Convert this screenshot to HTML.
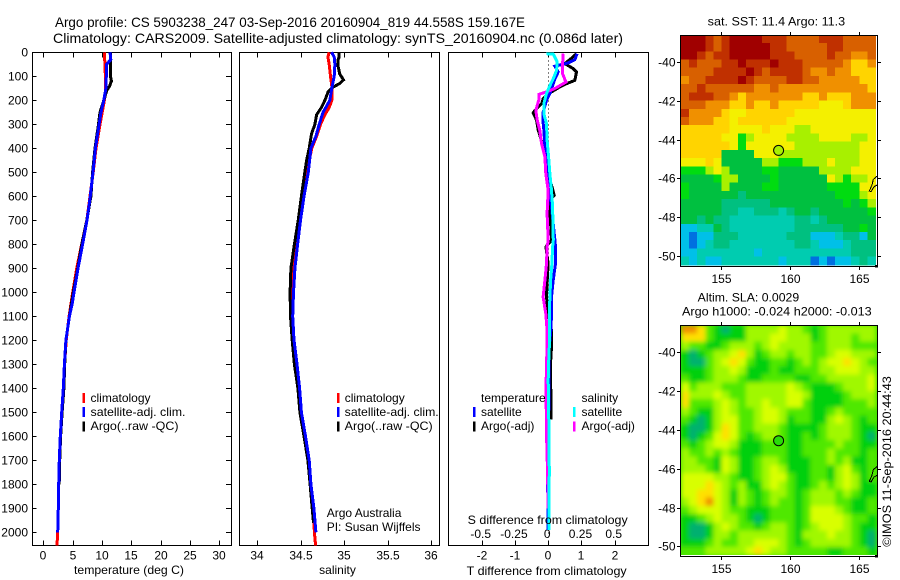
<!DOCTYPE html>
<html lang="en">
<head>
<meta charset="utf-8">
<title>Argo profile CS 5903238_247</title>
<style>
html,body{margin:0;padding:0;background:#fff;width:900px;height:580px;overflow:hidden}
svg{display:block}
text{font-family:"Liberation Sans",Arial,sans-serif;font-size:12px;fill:#000}
.t13{font-size:14px}
</style>
</head>
<body>
<svg id="chart" xmlns="http://www.w3.org/2000/svg" width="900" height="580" viewBox="0 0 900 580">
  <defs>
    <clipPath id="clip-sla"><rect x="681" y="325.7" width="196.5" height="229.3"/></clipPath>
    <filter id="smooth" x="-5%" y="-5%" width="110%" height="110%"><feGaussianBlur stdDeviation="2.4"/></filter>
  </defs>
  <text class="t13" x="55" y="27" textLength="470" lengthAdjust="spacingAndGlyphs">Argo profile: CS 5903238_247 03-Sep-2016 20160904_819 44.558S 159.167E</text>
  <text class="t13" x="53" y="43" textLength="570" lengthAdjust="spacingAndGlyphs">Climatology: CARS2009. Satellite-adjusted climatology: synTS_20160904.nc (0.086d later)</text>

  <g id="panels"></g>
  <g id="maps"></g>

  <g>
    <rect x="82.5" y="393" width="2.5" height="10" fill="#ff0000"/>
    <text x="90.5" y="402">climatology</text>
    <rect x="82.5" y="407" width="2.5" height="10" fill="#0000ff"/>
    <text x="90.5" y="416" textLength="95" lengthAdjust="spacingAndGlyphs">satellite-adj. clim.</text>
    <rect x="82.5" y="421.5" width="2.5" height="10" fill="#000"/>
    <text x="90.5" y="430" textLength="88" lengthAdjust="spacingAndGlyphs">Argo(..raw -QC)</text>
  </g>
  <g>
    <rect x="337" y="393" width="2.5" height="10" fill="#ff0000"/>
    <text x="344.7" y="402">climatology</text>
    <rect x="337" y="407" width="2.5" height="10" fill="#0000ff"/>
    <text x="344.7" y="416" textLength="94" lengthAdjust="spacingAndGlyphs">satellite-adj. clim.</text>
    <rect x="337" y="421.5" width="2.5" height="10" fill="#000"/>
    <text x="344.7" y="430" textLength="88" lengthAdjust="spacingAndGlyphs">Argo(..raw -QC)</text>
    <text x="326.7" y="517">Argo Australia</text>
    <text x="326.7" y="531">PI: Susan Wijffels</text>
  </g>
  <g>
    <text x="481" y="402">temperature</text>
    <rect x="473" y="407" width="2.5" height="10" fill="#0000ff"/>
    <text x="481" y="416">satellite</text>
    <rect x="473" y="421.5" width="2.5" height="10" fill="#000"/>
    <text x="481" y="430">Argo(-adj)</text>
    <text x="581.5" y="402">salinity</text>
    <rect x="573" y="407" width="2.5" height="10" fill="#00ffff"/>
    <text x="581.5" y="416">satellite</text>
    <rect x="573" y="421.5" width="2.5" height="10" fill="#ff00ff"/>
    <text x="581.5" y="430">Argo(-adj)</text>
  </g>

  <text x="74" y="574" textLength="110" lengthAdjust="spacingAndGlyphs">temperature (deg C)</text>
  <text x="337.5" y="574" text-anchor="middle">salinity</text>
  <text x="466.7" y="575" textLength="160" lengthAdjust="spacingAndGlyphs">T difference from climatology</text>
  <text x="467.7" y="524" textLength="160" lengthAdjust="spacingAndGlyphs">S difference from climatology</text>

  <text x="707.7" y="25.5" textLength="137.5" lengthAdjust="spacingAndGlyphs">sat. SST: 11.4 Argo: 11.3</text>
  <text x="697.7" y="301.7" textLength="101.5" lengthAdjust="spacingAndGlyphs">Altim. SLA: 0.0029</text>
  <text x="682" y="315.7" textLength="189.7" lengthAdjust="spacingAndGlyphs">Argo h1000: -0.024 h2000: -0.013</text>
  <text transform="translate(891,546.7) rotate(-90)" textLength="170.5" lengthAdjust="spacingAndGlyphs">©IMOS 11-Sep-2016 20:44:43</text>
</svg>
<script>
/* ---------- axis tick values ---------- */
const depthTicks = [0,100,200,300,400,500,600,700,800,900,1000,1100,1200,1300,1400,1500,1600,1700,1800,1900,2000];
const tempTicks = [0,5,10,15,20,25,30];
const salTicks = [34,34.5,35,35.5,36];
const salTickLabels = ['34','34.5','35','35.5','36'];
const tDiffTicks = [-2,-1,0,1,2];
const sDiffTicks = [-0.5,-0.25,0,0.25,0.5];
const sDiffLabels = ['-0.5','-0.25','0','0.25','0.5'];
const lonTicks = [155,160,165];
const latTicks = [-40,-42,-44,-46,-48,-50];

/* ---------- temperature profiles ---------- */
const climTempDepth = [0,100,170,200,300,400,500,600,700,800,900,1000,1100,1200,1300,1400,1500,1600,1700,1800,1900,2000,2055];
const climTemp = [10.4,10.57,10.57,10.4,9.66,8.98,8.5,7.96,7.4,6.54,5.69,5.0,4.4,3.9,3.62,3.4,3.13,2.9,2.73,2.62,2.56,2.45,2.33];
const satTempDepth = [0,30,50,100,150,200,250,300,400,500,600,700,800,900,1000,1050,1100,1200,1300,1400,1500,1600,1700,1800,1900,2000];
const satTemp = [11.36,11.5,10.8,10.73,10.66,10.3,9.83,9.5,8.87,8.47,8.0,7.44,6.7,5.9,5.23,4.9,4.45,3.85,3.6,3.4,3.13,2.9,2.73,2.62,2.56,2.45];
const argoTempDepth = [0,100,120,140,160,200,250,300,400,500,600,700,800,900,1000,1100,1200,1300,1400,1500,1600,1700,1800];
const argoTemp = [11.4,11.45,11.6,11.3,10.8,10.3,9.66,9.4,8.8,8.4,8.1,7.4,6.55,5.85,5.1,4.45,3.85,3.65,3.5,3.2,2.95,2.8,2.7];

/* ---------- salinity profiles ---------- */
const climSalDepth = [0,20,50,100,150,200,230,260,300,350,400,500,600,700,800,900,1000,1100,1200,1300,1400,1500,1600,1700,1800,1900,2000,2055];
const climSal = [34.83,34.815,34.83,34.845,34.863,34.86,34.83,34.78,34.73,34.685,34.63,34.57,34.516,34.485,34.436,34.41,34.4,34.39,34.41,34.44,34.475,34.5,34.54,34.585,34.615,34.645,34.66,34.673];
const satSalDepth = [0,20,50,100,150,200,250,300,350,400,500,600,700,800,900,1000,1100,1200,1300,1400,1500,1600,1700,1800,1900,2000];
const satSal = [34.857,34.887,34.895,34.887,34.86,34.837,34.76,34.715,34.677,34.62,34.59,34.54,34.5,34.467,34.436,34.42,34.41,34.425,34.46,34.49,34.51,34.558,34.6,34.62,34.654,34.677];
const argoSalDepth = [0,20,30,60,90,115,130,145,165,200,230,260,300,340,400,450,500,600,700,800,900,1000,1100,1200,1300,1400,1500,1600,1700,1800,1900,1960];
const argoSal = [34.944,34.944,34.933,34.933,34.95,34.994,34.95,34.875,34.817,34.78,34.74,34.685,34.665,34.627,34.6,34.57,34.55,34.51,34.474,34.43,34.39,34.38,34.385,34.405,34.43,34.47,34.493,34.54,34.585,34.61,34.635,34.65];

/* ---------- differences from climatology ---------- */
const satTDiffDepth = [6,31,44,58,82,110,131,172,200,249,297,325,394,436,506,575,644,783,811,881,950,1019,1089,1158,1228,1297,1464,1742,1990];
const satTDiff = [.87,.80,.60,.20,.30,.20,.15,.05,-.05,-.15,-.15,-.13,-.10,-.05,-.03,.03,.10,.20,.22,.22,.15,.10,.10,.08,.03,.02,.02,-.02,0];
const argoTDiffDepth = [6,19,47,68,82,117,131,144,169,193,214,242,253,283,325,346,394,450,506,568,596,617,658,783,811,881,950,1019,1089,1158,1228,1297,1464,1530];
const argoTDiff = [.85,.75,.50,.75,.85,.80,.55,.35,.05,-.15,-.20,-.40,-.45,-.35,-.30,-.25,-.15,-.07,0,.13,.18,.05,.05,.10,-.07,0,-.03,-.05,0,.10,.10,.07,.08,.08];
const satSDiffDepth = [6,8,40,75,110,144,172,214,256,297,367,436,506,575,644,783,811,881,950,1019,1089,1158,1228,1297,1367,1464,1589,1742,1990];
const satSDiff = [-.013,.038,.068,.063,.038,.008,-.013,-.033,-.033,-.013,-.008,.003,.013,.025,.033,.038,.033,.028,.018,.013,.008,.008,.008,.003,0,.003,.005,.008,.005];
const argoSDiffDepth = [6,47,89,124,151,165,175,193,242,283,325,381,436,506,575,672,783,811,881,950,1019,1089,1158,1228,1297,1367,1464,1589,1742,1900];
const argoSDiff = [.113,.108,.108,.133,.05,-.013,-.068,-.068,-.093,-.083,-.063,-.05,-.025,-.018,0,-.008,0,-.008,-.013,-.025,-.038,-.018,-.008,-.008,-.013,-.015,-.015,-.013,-.005,0];

/* ---------- float position and coastline ---------- */
const argoLon = 159.167;
const argoLat = -44.558;
const argoSstLevel = 7;
const argoSlaLevel = 5.5;
const coastLon = [166.35,166.06,165.97,165.77,165.9,166.11,166.35];
const coastLat = [-45.88,-46.05,-46.34,-46.65,-46.68,-46.43,-46.34];

/* ---------- map grids: colour-scale level per cell, north to south ---------- */
const sstGrid = [
[13,13,13,12,11,12,13,13,13,13,12,12,12,11,11,11,11,12,12,12,11,11,11,11],
[13,13,13,12,11,12,13,13,13,13,13,12,12,11,11,11,11,11,12,12,11,11,11,11],
[13,13,12,11,12,12,13,13,13,13,13,12,12,12,11,11,11,11,12,11,11,10,10,11],
[11,12,11,11,11,12,12,13,12,12,12,13,12,12,12,11,11,11,11,11,10,9,9,10],
[11,11,11,11,12,12,12,12,13,12,11,12,12,12,12,11,10,10,11,10,10,9,9,9],
[10,11,11,12,12,12,12,13,12,11,11,11,11,12,12,11,11,10,10,10,10,10,9,9],
[11,11,12,11,11,11,11,11,11,10,10,11,10,10,10,10,10,10,10,10,10,10,10,9],
[11,12,12,12,11,11,10,9,10,10,10,10,10,10,10,9,9,10,9,9,9,10,10,10],
[11,11,11,10,10,10,9,9,10,9,9,10,9,9,9,9,9,8,8,8,9,10,10,10],
[12,10,10,10,10,9,8,8,9,9,9,9,9,9,8,8,8,8,8,8,8,8,8,8],
[11,10,10,10,9,9,8,9,9,9,9,9,9,8,8,8,8,8,8,8,8,8,8,8],
[9,9,9,9,9,9,8,8,8,8,9,8,8,8,7,7,8,8,8,8,8,8,8,8],
[9,9,9,9,9,8,8,6,7,8,8,8,8,7,7,7,7,8,8,8,8,7,7,8],
[9,9,9,9,9,9,8,6,8,8,8,8,8,8,7,7,7,7,7,7,7,7,8,8],
[9,9,9,9,9,5,5,5,5,8,8,8,7,7,7,7,7,7,7,7,7,7,8,8],
[8,8,8,9,8,5,5,5,5,5,7,7,6,6,6,7,7,7,8,7,7,7,8,8],
[6,6,6,7,8,7,5,5,5,5,6,6,5,5,5,5,5,7,7,7,7,8,8,8],
[5,5,5,5,6,7,7,5,5,5,5,6,5,5,5,5,5,5,8,7,6,7,7,8],
[6,5,5,5,5,7,5,5,5,5,6,6,5,5,5,5,5,5,6,6,6,6,8,8],
[6,5,5,5,5,5,5,4,5,5,5,5,5,5,5,5,5,5,5,6,6,6,7,8],
[5,5,5,5,5,4,4,4,4,4,4,5,5,5,5,5,5,5,5,5,6,5,6,7],
[5,5,5,5,5,4,4,3,3,4,4,4,3,4,5,5,4,5,5,5,5,5,5,6],
[5,5,4,5,4,4,3,3,3,3,3,3,3,3,4,4,3,4,5,5,5,5,5,5],
[2,2,3,3,5,4,3,3,3,3,3,3,3,3,4,4,4,4,4,4,5,5,6,5],
[2,1,2,2,4,4,4,3,3,3,3,3,3,4,4,4,2,2,2,3,4,4,2,5],
[2,1,2,3,4,4,3,3,3,3,3,3,3,3,4,4,3,2,2,2,3,4,4,4],
[2,2,3,3,3,3,3,3,3,2,3,3,3,3,3,3,3,3,3,3,3,4,4,4],
[3,2,3,2,2,3,3,3,3,3,3,3,2,3,3,3,1,2,1,2,2,3,4,3]
];
const slaGrid = [
[10,10,9,6,5,4,5,5,7,7,7,7,8,7,7,6,5,6,7,7,7,7,7,7],
[9,9,9,6,5,5,5,5,7,7,7,8,8,7,7,7,5,6,7,7,7,6,7,7],
[7,6,6,5,5,6,7,7,7,6,7,8,7,7,7,7,6,6,7,7,7,6,6,6],
[5,4,5,6,7,7,8,9,7,5,6,7,7,6,7,7,6,6,7,8,8,7,7,7],
[5,4,4,6,7,8,9,8,6,5,5,6,6,5,6,7,6,7,8,8,9,8,7,6],
[5,5,5,6,7,7,8,7,5,5,5,6,5,5,6,6,6,7,7,8,8,8,7,7],
[6,5,5,6,7,7,7,6,5,5,6,6,6,6,5,5,6,6,7,7,7,7,7,8],
[8,6,7,7,7,6,6,6,7,7,7,7,7,8,7,6,5,5,5,6,7,7,7,8],
[9,7,7,7,8,7,6,6,7,7,7,7,7,8,8,7,5,5,5,5,6,7,7,7],
[9,6,6,6,7,8,7,6,7,7,8,7,7,8,8,6,5,5,5,5,6,6,6,7],
[7,6,5,5,7,8,7,6,6,7,8,8,7,6,6,6,5,5,6,7,6,6,6,6],
[6,5,4,5,7,8,8,6,6,7,8,8,7,5,6,6,5,5,7,8,7,6,5,6],
[5,4,4,5,7,9,8,6,6,7,7,7,6,5,5,5,5,6,7,7,7,6,5,5],
[5,4,5,6,8,9,8,6,5,6,7,7,6,5,5,6,5,6,7,7,7,6,5,4],
[6,5,6,7,8,8,7,5,5,5,6,6,6,5,5,6,6,6,6,7,6,6,5,5],
[7,6,6,7,6,7,6,5,5,5,6,6,6,5,5,6,6,6,7,6,6,6,5,6],
[7,7,6,6,5,8,7,5,5,6,7,7,6,5,5,5,6,6,7,6,7,5,5,6],
[7,7,7,6,5,8,7,5,5,6,7,8,7,5,5,5,6,6,5,7,8,6,5,6],
[8,8,8,8,7,7,6,5,5,6,7,8,8,6,5,5,6,6,5,7,8,7,5,6],
[8,8,8,9,8,7,6,7,5,5,7,8,7,6,5,5,6,7,6,7,8,7,5,5],
[8,8,9,9,8,7,5,7,6,5,6,7,7,6,5,6,7,7,7,6,7,6,5,5],
[7,8,9,10,8,7,5,7,6,5,6,7,6,6,5,6,7,7,7,6,6,5,5,6],
[6,7,8,8,8,7,6,6,5,5,5,6,6,6,5,6,8,8,8,7,6,5,5,6],
[5,5,6,7,8,7,7,6,5,4,5,6,6,6,5,6,8,8,8,8,7,6,6,5],
[5,4,4,5,7,8,7,6,6,5,6,7,7,6,5,6,7,8,8,8,7,6,5,5],
[5,4,4,5,7,7,6,7,7,7,7,7,7,6,5,7,7,7,8,7,7,6,5,4],
[5,5,5,6,7,6,6,7,7,8,8,8,7,6,5,6,7,7,7,7,7,6,5,4],
[6,6,6,7,7,7,7,7,8,9,8,7,7,6,6,6,6,6,5,5,6,6,6,5]
];

/* ---------- rendering ---------- */
const NS = 'http://www.w3.org/2000/svg';
function svgEl(tag, attrs, parent) {
  const el = document.createElementNS(NS, tag);
  for (const k in attrs) el.setAttribute(k, attrs[k]);
  parent.appendChild(el);
  return el;
}
const panels = document.getElementById('panels');
const maps = document.getElementById('maps');

/* axis functions */
const depthY = d => 52.3 + d * 0.2400;
const tempX = t => 43.3 + t * 5.873;
const salX = s => 257 + (s - 34) * 87;
const tDiffX = t => 548.2 + t * 33.25;
const sDiffX = s => 548.2 + s * 133;
const lonX = lon => 721.3 + (lon - 155) * 13.74;
const latY = (lat, y40) => y40 + (-40 - lat) * 19.4;

const PANEL_TOP = 52.5, PANEL_BOTTOM = 545.5;

function frame(x0, x1, name) {
  const r = svgEl('rect', {x: x0, y: PANEL_TOP, width: x1 - x0, height: PANEL_BOTTOM - PANEL_TOP, fill: 'none', stroke: '#000', 'stroke-width': 1.4, 'shape-rendering': 'crispEdges'}, panels);
  
  
}
function xTicks(values, labels, scale, labelY) {
  values.forEach((v, i) => {
    const x = Math.round(scale(v)) + 0.5;
    const top = svgEl('line', {x1: x, x2: x, y1: PANEL_TOP, y2: PANEL_TOP + 5, stroke: '#000', 'shape-rendering': 'crispEdges'}, panels);
    
    
    const bot = svgEl('line', {x1: x, x2: x, y1: PANEL_BOTTOM, y2: PANEL_BOTTOM - 5, stroke: '#000', 'shape-rendering': 'crispEdges'}, panels);
    
    
    const t = svgEl('text', {x: x - 0.5, y: labelY, 'text-anchor': 'middle'}, panels);
    
    
    t.textContent = labels[i];
  });
}
function profile(depths, values, scale, color, name) {
  const pts = depths.map((d, i) => scale(values[i]).toFixed(1) + ',' + depthY(d).toFixed(1)).join(' ');
  const p = svgEl('polyline', {points: pts, fill: 'none', stroke: color, 'stroke-width': 3, 'shape-rendering': 'crispEdges'}, panels);
  
  
}

/* temperature panel */
frame(32.5, 231.5, 'temperature-panel-frame');
depthTicks.forEach(d => {
  const y = Math.round(depthY(d)) + 0.5;
  const a = svgEl('line', {x1: 32.5, x2: 36.5, y1: y, y2: y, stroke: '#000', 'shape-rendering': 'crispEdges'}, panels);
  
  
  const b = svgEl('line', {x1: 231.5, x2: 226, y1: y, y2: y, stroke: '#000', 'shape-rendering': 'crispEdges'}, panels);
  
  
  const t = svgEl('text', {x: 28, y: depthY(d) + 4, 'text-anchor': 'end'}, panels);
  
  
  t.textContent = String(d);
});
xTicks(tempTicks, tempTicks.map(String), tempX, 559.5);
profile(climTempDepth, climTemp, tempX, '#ff0000', 'climatology-temperature-line');
profile(argoTempDepth, argoTemp, tempX, '#000000', 'argo-temperature-line');
profile(satTempDepth, satTemp, tempX, '#0000ff', 'satellite-temperature-line');

/* salinity panel */
frame(239.5, 439.5, 'salinity-panel-frame');
xTicks(salTicks, salTickLabels, salX, 559.5);
profile(climSalDepth, climSal, salX, '#ff0000', 'climatology-salinity-line');
profile(argoSalDepth, argoSal, salX, '#000000', 'argo-salinity-line');
profile(satSalDepth, satSal, salX, '#0000ff', 'satellite-salinity-line');

/* difference panel */
frame(448.5, 648.5, 'difference-panel-frame');
xTicks(tDiffTicks, tDiffTicks.map(String), tDiffX, 559.5);
sDiffTicks.forEach((v, i) => {
  const t = svgEl('text', {x: sDiffX(v) - 1, y: 538, 'text-anchor': 'middle'}, panels);
  
  
  t.textContent = sDiffLabels[i];
});
const zero = svgEl('line', {x1: 548.5, x2: 548.5, y1: PANEL_TOP, y2: PANEL_BOTTOM, stroke: '#000', 'stroke-dasharray': '1 3', 'shape-rendering': 'crispEdges'}, panels);


profile(argoTDiffDepth, argoTDiff, tDiffX, '#000000', 'argo-temperature-difference-line');
profile(satTDiffDepth, satTDiff, tDiffX, '#0000ff', 'satellite-temperature-difference-line');
profile(argoSDiffDepth, argoSDiff, sDiffX, '#ff00ff', 'argo-salinity-difference-line');
profile(satSDiffDepth, satSDiff, sDiffX, '#00ffff', 'satellite-salinity-difference-line');

/* colour scales for the map levels */
const sstColors = [[0,112,224],[0,192,232],[0,204,176],[0,192,128],[0,192,64],[0,220,16],[168,240,0],[244,240,0],[255,212,0],[240,144,0],[216,96,0],[192,48,0],[160,0,0]];
const slaColors = [[0,112,224],[0,192,232],[0,204,176],[0,176,112],[0,208,16],[80,232,0],[160,248,0],[216,255,0],[255,224,0],[240,144,0],[216,96,0],[192,48,0],[160,0,0]];
function levelColor(level, stops) {
  const v = Math.max(1, Math.min(13, level)) - 1;
  const i = Math.min(11, Math.floor(v));
  const f = v - i;
  const c = stops[i].map((s, k) => Math.round(s + (stops[i + 1][k] - s) * f));
  return 'rgb(' + c.join(',') + ')';
}

/* maps */
const GRID_LON0 = 152.07, GRID_DLON = 0.5896, GRID_LAT0 = -38.6, GRID_DLAT = 0.4235;
function drawCells(grid, y40, parent, stops) {
  grid.forEach((row, r) => {
    row.forEach((level, c) => {
      const x0 = lonX(GRID_LON0 + c * GRID_DLON), x1 = lonX(GRID_LON0 + (c + 1) * GRID_DLON);
      const y0 = latY(GRID_LAT0 - r * GRID_DLAT, y40), y1 = latY(GRID_LAT0 - (r + 1) * GRID_DLAT, y40);
      const cell = svgEl('rect', {x: x0.toFixed(2), y: y0.toFixed(2), width: (x1 - x0 + 0.4).toFixed(2), height: (y1 - y0 + 0.4).toFixed(2), fill: levelColor(level, stops), 'shape-rendering': 'crispEdges'}, parent);
      
      
    });
  });
}
function mapFurniture(y40, frameTop, frameBottom, labelY, markerColor) {
  const fr = svgEl('rect', {x: 680.5, y: frameTop, width: 197, height: frameBottom - frameTop, fill: 'none', stroke: '#000', 'shape-rendering': 'crispEdges'}, maps);
  
  
  lonTicks.forEach(lon => {
    const x = Math.round(lonX(lon)) + 0.5;
    const a = svgEl('line', {x1: x, x2: x, y1: frameTop, y2: frameTop - 3.5, stroke: '#000', 'shape-rendering': 'crispEdges'}, maps);
    
    
    const b = svgEl('line', {x1: x, x2: x, y1: frameBottom, y2: frameBottom + 3.5, stroke: '#000', 'shape-rendering': 'crispEdges'}, maps);
    
    
    const t = svgEl('text', {x: x, y: labelY, 'text-anchor': 'middle'}, maps);
    
    
    t.textContent = String(lon);
  });
  latTicks.forEach(lat => {
    const y = Math.round(latY(lat, y40)) + 0.5;
    const a = svgEl('line', {x1: 680.5, x2: 677, y1: y, y2: y, stroke: '#000', 'shape-rendering': 'crispEdges'}, maps);
    
    
    const b = svgEl('line', {x1: 877.5, x2: 881, y1: y, y2: y, stroke: '#000', 'shape-rendering': 'crispEdges'}, maps);
    
    
    const t = svgEl('text', {x: 675.5, y: y + 4, 'text-anchor': 'end'}, maps);
    
    
    t.textContent = String(lat);
  });
  const coast = svgEl('polyline', {points: coastLon.map((lon, i) => lonX(lon).toFixed(1) + ',' + latY(coastLat[i], y40).toFixed(1)).join(' '), fill: 'none', stroke: '#000', 'stroke-width': 1, 'shape-rendering': 'crispEdges'}, maps);
  
  
  const marker = svgEl('circle', {cx: lonX(argoLon).toFixed(1), cy: latY(argoLat, y40).toFixed(1), r: 5, fill: markerColor, stroke: '#000', 'stroke-width': 1}, maps);
  
  
  const corner = svgEl('rect', {x: 875, y: frameBottom - 1.5, width: 3, height: 2.5, fill: '#000'}, maps);
  
  
}

/* SST map */
const sstGroup = svgEl('g', {}, maps);


drawCells(sstGrid, 62, sstGroup, sstColors);
mapFurniture(62, 35.5, 266.5, 283, levelColor(argoSstLevel, sstColors));

/* SLA map (smooth field) */
const slaClip = svgEl('g', {'clip-path': 'url(#clip-sla)'}, maps);


const slaBack = svgEl('rect', {x: 681, y: 325.7, width: 197, height: 230, fill: '#40e000'}, slaClip);


const slaGroup = svgEl('g', {filter: 'url(#smooth)'}, slaClip);


drawCells(slaGrid, 352.3, slaGroup, slaColors);
mapFurniture(352.3, 325.5, 556.5, 573, levelColor(argoSlaLevel, slaColors));
</script>
</body>
</html>
